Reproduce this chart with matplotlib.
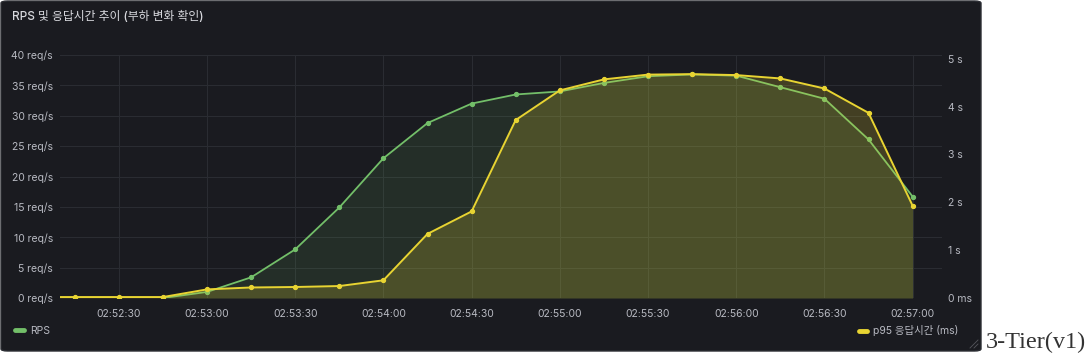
import numpy as np
import pandas as pd
import matplotlib
matplotlib.use("Agg")
import matplotlib.pyplot as plt
import matplotlib.dates as mdates
from matplotlib.patches import FancyBboxPatch
from matplotlib.lines import Line2D
from matplotlib.ticker import FuncFormatter, MultipleLocator

plt.rcParams['font.family'] = ['Inter', 'Noto Sans CJK KR', 'DejaVu Sans']

# data (15 s step)
times = ["02:52:00", "02:52:15", "02:52:30", "02:52:45",
         "02:53:00", "02:53:15", "02:53:30", "02:53:45",
         "02:54:00", "02:54:15", "02:54:30", "02:54:45",
         "02:55:00", "02:55:15", "02:55:30", "02:55:45",
         "02:56:00", "02:56:15", "02:56:30", "02:56:45",
         "02:57:00"]
rps = [0, 0, 0, 0,
       1.0, 3.4, 8.0, 14.9,
       23.0, 28.8, 32.0, 33.5,
       34.0, 35.4, 36.5, 36.8,
       36.6, 34.7, 32.8, 26.1,
       16.7]
p95_ms = [20, 20, 20, 20,
          180, 220, 230, 250,
          370, 1340, 1810, 3720,
          4340, 4570, 4670, 4680,
          4660, 4590, 4380, 3870,
          1930]
x_range = ["02:52:10", "02:57:10"]

BG = '#1a1b20'
GRID = '#2a2c32'
TXT = '#b8bac2'
GREEN = '#73bf69'
YELLOW = '#e8d432'

t = pd.to_datetime(["2024-01-01 " + s for s in times])
xr = pd.to_datetime(["2024-01-01 " + s for s in x_range])

W, H = 1088, 358
fig = plt.figure(figsize=(W / 100, H / 100), dpi=100, facecolor='white')

# panel background
panel = FancyBboxPatch((1 / W, 1 - 351 / H), 980 / W, 350 / H,
                       boxstyle="round,pad=0,rounding_size=0.006",
                       transform=fig.transFigure, facecolor=BG,
                       edgecolor='#2c2e34', linewidth=1.0, zorder=-10)
fig.patches.append(panel)

ax = fig.add_axes([60 / W, 1 - 298 / H, 882 / W, 243 / H])
ax.set_facecolor(BG)
ax2 = ax.twinx()

ax.fill_between(t, rps, 0, color=GREEN, alpha=0.12, linewidth=0)
ax.plot(t, rps, color=GREEN, lw=1.3, marker='o', ms=2.8, zorder=3)
ax2.fill_between(t, p95_ms, 0, color=YELLOW, alpha=0.2, linewidth=0)
ax2.plot(t, p95_ms, color=YELLOW, lw=1.4, marker='o', ms=2.8, zorder=3)

ax.set_xlim(xr[0], xr[1])
ax.set_ylim(0, 40)
ax2.set_ylim(0, 5080)

ax.xaxis.set_major_locator(mdates.SecondLocator(bysecond=[0, 30]))
ax.xaxis.set_major_formatter(mdates.DateFormatter('%H:%M:%S'))
ax.yaxis.set_major_locator(MultipleLocator(5))
ax.yaxis.set_major_formatter(FuncFormatter(lambda v, p: f"{v:g} req/s"))
ax2.yaxis.set_major_locator(MultipleLocator(1000))
ax2.yaxis.set_major_formatter(
    FuncFormatter(lambda v, p: "0 ms" if v == 0 else f"{v / 1000:g} s"))

ax.grid(True, color=GRID, lw=0.8)
ax.set_axisbelow(True)
for a in (ax, ax2):
    for s in a.spines.values():
        s.set_visible(False)
    a.tick_params(length=0, colors=TXT, labelsize=7.5)
ax.tick_params(axis='y', pad=5)
ax.tick_params(axis='x', pad=8)
ax2.tick_params(axis='y', pad=4)

fig.text(12 / W, 1 - 17 / H, "RPS 및 응답시간 추이 (부하 변화 확인)",
         color='#d8d9de', fontsize=8.5, fontweight='medium', va='center')

# legends
leg1 = fig.legend(handles=[Line2D([], [], color=GREEN, lw=3.5, solid_capstyle='round')],
                  labels=["RPS"], loc='center left',
                  bbox_to_anchor=(6 / W, 1 - 331 / H), frameon=False,
                  handlelength=0.8, handletextpad=0.6, fontsize=7.5,
                  labelcolor=TXT)
leg2 = fig.legend(handles=[Line2D([], [], color=YELLOW, lw=3.5, solid_capstyle='round')],
                  labels=["p95 응답시간 (ms)"], loc='center right',
                  bbox_to_anchor=(968 / W, 1 - 331 / H), frameon=False,
                  handlelength=0.8, handletextpad=0.6, fontsize=7.5,
                  labelcolor=TXT)

# resize handle
for d in (4, 8):
    fig.add_artist(Line2D([(978 - d) / W, 978 / W], [1 - 348 / H, 1 - (348 - d) / H],
                          color='#55575d', lw=0.6))

fig.text(986 / W, 1 - 342 / H, "3-Tier(v1)", family='Liberation Serif',
         fontsize=17.5, color='#333333', va='center', ha='left')

fig.savefig("out.png", dpi=100, facecolor='white')
